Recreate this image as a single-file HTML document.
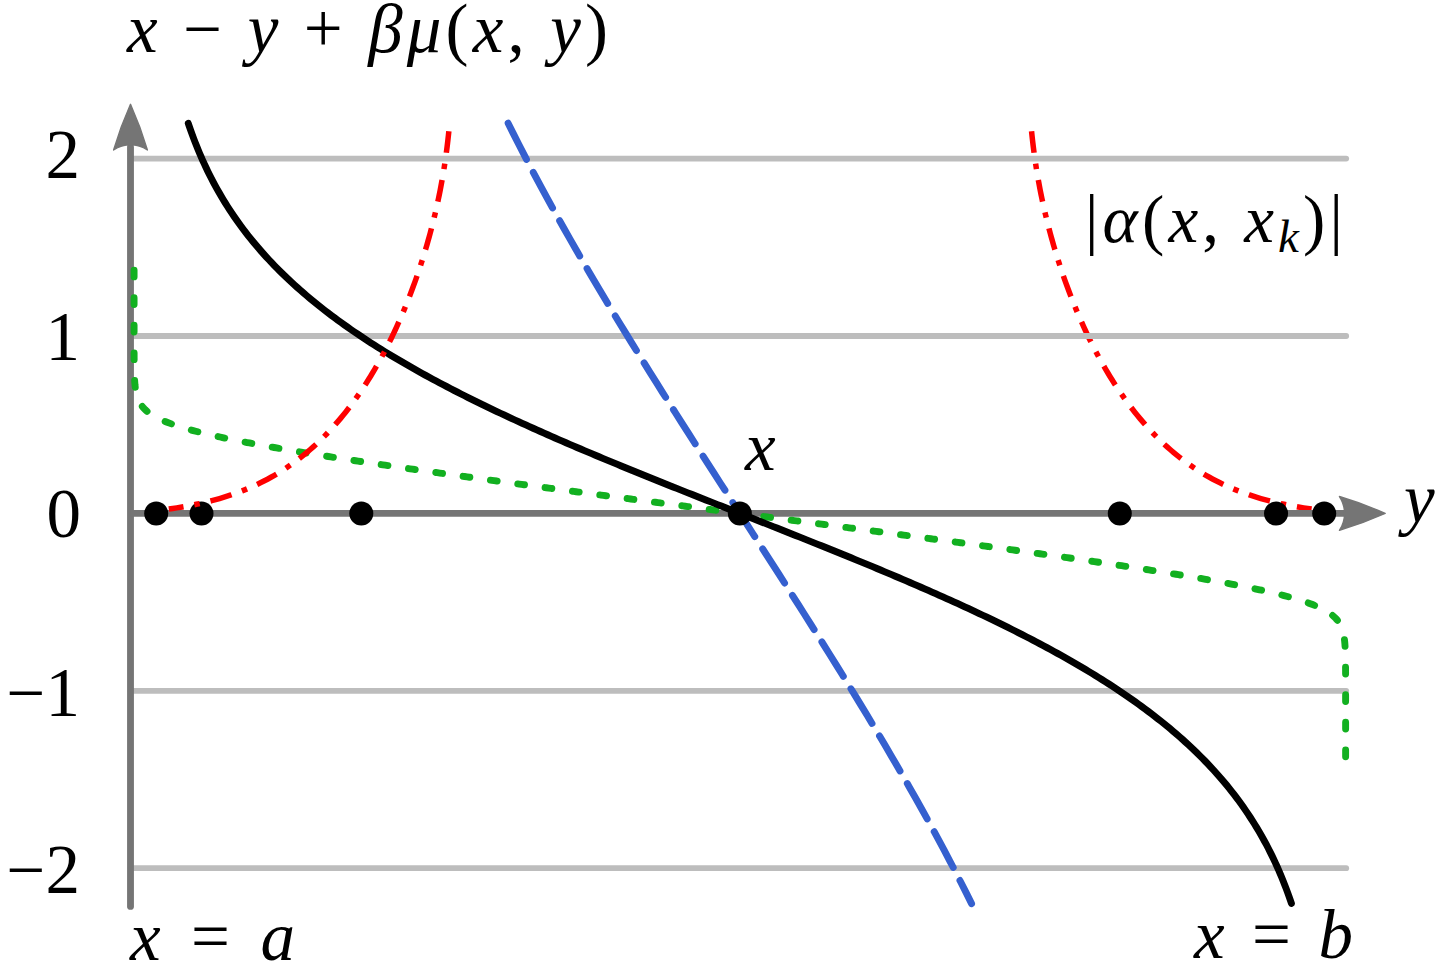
<!DOCTYPE html>
<html><head><meta charset="utf-8"><title>chart</title><style>html,body{margin:0;padding:0;background:#fff;font-family:"Liberation Sans",sans-serif}svg{display:block}</style></head><body>
<svg width="1436" height="961" viewBox="0 0 1436 961">
<rect width="1436" height="961" fill="#fff"/>
<path d="M1311.6 509.02 L1307.65 508.45 L1303.71 507.85 L1299.78 507.22 L1295.85 506.55 L1291.92 505.84 L1288.01 505.09 L1284.1 504.3 L1280.2 503.47 L1276.31 502.58 L1272.44 501.65 L1268.57 500.68 L1264.72 499.65 L1260.89 498.56 L1257.07 497.42 L1253.26 496.23 L1249.48 494.98 L1245.71 493.68 L1241.96 492.31 L1238.24 490.88 L1234.54 489.4 L1230.87 487.85 L1227.22 486.24 L1223.6 484.57 L1220.01 482.84 L1216.45 481.04 L1212.92 479.19 L1209.43 477.27 L1205.97 475.29 L1202.54 473.25 L1199.15 471.16 L1195.8 469 L1192.49 466.78 L1189.21 464.51 L1185.97 462.18 L1182.78 459.8 L1179.62 457.36 L1176.51 454.87 L1173.44 452.33 L1170.41 449.74 L1167.42 447.1 L1164.47 444.42 L1161.57 441.69 L1158.7 438.91 L1155.88 436.1 L1153.1 433.24 L1150.37 430.34 L1147.67 427.4 L1145.02 424.43 L1142.4 421.42 L1139.83 418.38 L1137.29 415.3 L1134.8 412.19 L1132.34 409.05 L1129.92 405.88 L1127.54 402.68 L1125.2 399.46 L1122.9 396.21 L1120.63 392.93 L1118.39 389.63 L1116.2 386.3 L1114.03 382.95 L1111.9 379.58 L1109.81 376.19 L1107.75 372.78 L1105.72 369.35 L1103.72 365.9 L1101.76 362.43 L1099.82 358.94 L1097.92 355.44 L1096.05 351.92 L1094.2 348.38 L1092.39 344.83 L1090.6 341.27 L1088.85 337.69 L1087.12 334.1 L1085.42 330.49 L1083.75 326.87 L1082.11 323.24 L1080.49 319.6 L1078.9 315.94 L1077.33 312.28 L1075.79 308.6 L1074.28 304.91 L1072.79 301.21 L1071.33 297.5 L1069.89 293.79 L1068.48 290.06 L1067.09 286.32 L1065.73 282.57 L1064.39 278.82 L1063.07 275.06 L1061.78 271.28 L1060.52 267.5 L1059.28 263.71 L1058.06 259.92 L1056.87 256.12 L1055.7 252.3 L1054.55 248.49 L1053.43 244.66 L1052.33 240.83 L1051.25 236.99 L1050.2 233.14 L1049.18 229.29 L1048.18 225.43 L1047.2 221.57 L1046.25 217.7 L1045.32 213.82 L1044.41 209.94 L1043.53 206.05 L1042.68 202.16 L1041.85 198.26 L1041.04 194.35 L1040.26 190.44 L1039.51 186.53 L1038.78 182.61 L1038.07 178.69 L1037.4 174.76 L1036.74 170.82 L1036.11 166.89 L1035.51 162.95 L1034.93 159 L1034.38 155.06 L1033.85 151.1 L1033.34 147.15 L1032.86 143.19 L1032.41 139.23 L1031.97 135.27 L1031.56 131.3" stroke="#ff0000" stroke-width="5.5" stroke-dasharray="22 11.04 5.5 11.04" stroke-dashoffset="7.12" fill="none"/>
<g stroke="#bdbdbd" stroke-width="5.8" stroke-linecap="round" fill="none">
<path d="M130.6 158.6 H1346.2"/>
<path d="M130.6 336 H1346.2"/>
<path d="M130.6 690.8 H1346.2"/>
<path d="M130.6 868.2 H1346.2"/>
</g>
<g stroke="#757575" stroke-width="6.85" fill="none">
<path d="M130.5 147 V906.4" stroke-linecap="round"/>
<path d="M130.6 513.4 H1345"/>
</g>
<g fill="#757575" stroke="#757575" stroke-width="1.4" stroke-linejoin="round">
<path d="M1385.15 513.4 Q1362.85 523.35 1339.45 530.3 A30.55 30.55 0 0 0 1339.45 496.5 Q1362.85 503.45 1385.15 513.4Z"/>
<path d="M130.5 104.3 Q140.45 126.6 147.4 150 A30.55 30.55 0 0 0 113.6 150 Q120.55 126.6 130.5 104.3Z"/>
</g>
<g stroke="#12b020" stroke-width="6.89" stroke-linecap="round" stroke-dasharray="6.8 20.785" fill="none">
<path d="M134.08 270.1 L134.08 272.6 L134.08 275.1 L134.08 277.61 L134.08 280.11 L134.08 282.61 L134.08 285.11 L134.08 287.62 L134.08 290.12 L134.08 292.62 L134.08 295.12 L134.08 297.62 L134.08 300.13 L134.08 302.63 L134.08 305.13 L134.08 307.63 L134.08 310.14 L134.08 312.64 L134.08 315.14 L134.08 317.64 L134.08 320.14 L134.09 322.65 L134.09 325.15 L134.09 327.65 L134.09 330.15 L134.09 332.66 L134.09 335.16 L134.09 337.66 L134.09 340.16 L134.09 342.66 L134.1 345.17 L134.1 347.67 L134.11 350.17 L134.11 352.67 L134.12 355.18 L134.13 357.68 L134.15 360.18 L134.17 362.68 L134.2 365.18 L134.23 367.69 L134.27 370.19 L134.33 372.69 L134.41 375.19 L134.51 377.69 L134.63 380.19 L134.8 382.69 L135.01 385.18 L135.29 387.67 L135.65 390.14 L136.1 392.6 L136.68 395.04 L137.41 397.43 L138.3 399.77 L139.38 402.03 L140.65 404.18 L142.1 406.22 L143.72 408.13 L145.48 409.9 L147.37 411.54 L149.35 413.07 L151.41 414.49 L153.54 415.8 L155.72 417.04 L157.93 418.2 L160.19 419.29 L162.46 420.32 L164.76 421.31 L167.08 422.24 L169.42 423.14 L171.77 424 L174.13 424.83 L176.5 425.63 L178.88 426.4 L181.27 427.15 L183.67 427.87 L186.07 428.58 L188.47 429.27 L190.88 429.94 L193.3 430.59 L195.72 431.23 L198.14 431.86 L200.57 432.47 L202.99 433.07 L205.43 433.66 L207.86 434.24 L210.3 434.81 L212.74 435.37 L215.18 435.93 L217.62 436.47 L220.06 437.01 L222.51 437.54 L224.95 438.06 L227.4 438.58 L229.85 439.09 L232.3 439.59 L234.75 440.09 L237.21 440.59 L239.66 441.07 L242.12 441.56 L244.57 442.04 L247.03 442.51 L249.49 442.98 L251.95 443.45 L254.4 443.91 L256.86 444.37 L259.33 444.82 L261.79 445.28 L264.25 445.72 L266.71 446.17 L269.17 446.61 L271.64 447.05 L274.1 447.49 L276.57 447.92 L279.03 448.35 L281.5 448.78 L283.96 449.2 L286.43 449.63 L288.89 450.05 L291.36 450.47 L293.83 450.88 L296.3 451.3 L298.76 451.71 L301.23 452.12 L303.7 452.53 L306.17 452.93 L308.64 453.34 L311.11 453.74 L313.58 454.14 L316.05 454.54 L318.52 454.94 L320.99 455.33 L323.46 455.73 L325.93 456.12 L328.4 456.51 L330.88 456.9 L333.35 457.29 L335.82 457.68 L338.29 458.06 L340.76 458.45 L343.24 458.83 L345.71 459.21 L348.18 459.6 L350.66 459.98 L353.13 460.35 L355.6 460.73 L358.08 461.11 L360.55 461.48 L363.02 461.86 L365.5 462.23 L367.97 462.6 L370.45 462.97 L372.92 463.35 L375.4 463.71 L377.87 464.08 L380.35 464.45 L382.82 464.82 L385.3 465.18 L387.77 465.55 L390.25 465.91 L392.72 466.28 L395.2 466.64 L397.68 467 L400.15 467.36 L402.63 467.72 L405.1 468.08 L407.58 468.44 L410.06 468.8 L412.53 469.16 L415.01 469.51 L417.49 469.87 L419.96 470.23 L422.44 470.58 L424.92 470.94 L427.4 471.29 L429.87 471.64 L432.35 472 L434.83 472.35 L437.3 472.7 L439.78 473.05 L442.26 473.4 L444.74 473.75 L447.21 474.1 L449.69 474.45 L452.17 474.8 L454.65 475.15 L457.13 475.49 L459.6 475.84 L462.08 476.19 L464.56 476.53 L467.04 476.88 L469.52 477.22 L472 477.57 L474.47 477.91 L476.95 478.26 L479.43 478.6 L481.91 478.94 L484.39 479.29 L486.87 479.63 L489.35 479.97 L491.82 480.31 L494.3 480.65 L496.78 480.99 L499.26 481.33 L501.74 481.67 L504.22 482.01 L506.7 482.35 L509.18 482.69 L511.66 483.03 L514.14 483.37 L516.62 483.71 L519.09 484.05 L521.57 484.38 L524.05 484.72 L526.53 485.06 L529.01 485.4 L531.49 485.73 L533.97 486.07 L536.45 486.4 L538.93 486.74 L541.41 487.08 L543.89 487.41 L546.37 487.75 L548.85 488.08 L551.33 488.41 L553.81 488.75 L556.29 489.08 L558.77 489.42 L561.25 489.75 L563.73 490.08 L566.21 490.42 L568.69 490.75 L571.17 491.08 L573.65 491.41 L576.13 491.75 L578.61 492.08 L581.09 492.41 L583.57 492.74 L586.05 493.07 L588.53 493.4 L591.01 493.74 L593.49 494.07 L595.97 494.4 L598.45 494.73 L600.93 495.06 L603.41 495.39 L605.89 495.72 L608.37 496.05 L610.85 496.38 L613.33 496.71 L615.81 497.04 L618.29 497.37 L620.77 497.7 L623.25 498.03 L625.73 498.35 L628.22 498.68 L630.7 499.01 L633.18 499.34 L635.66 499.67 L638.14 500 L640.62 500.33 L643.1 500.65 L645.58 500.98 L648.06 501.31 L650.54 501.64 L653.02 501.97 L655.5 502.29 L657.98 502.62 L660.46 502.95 L662.94 503.28 L665.43 503.6 L667.91 503.93 L670.39 504.26 L672.87 504.59 L675.35 504.91 L677.83 505.24 L680.31 505.57 L682.79 505.89 L685.27 506.22 L687.75 506.55 L690.23 506.87 L692.71 507.2 L695.19 507.53 L697.68 507.85 L700.16 508.18 L702.64 508.51 L705.12 508.83 L707.6 509.16 L710.08 509.49 L712.56 509.81 L715.04 510.14 L717.52 510.46 L720 510.79 L722.48 511.12 L724.96 511.44 L727.45 511.77 L729.93 512.1 L732.41 512.42 L734.89 512.75 L737.37 513.07 L739.85 513.4"/>
<path d="M1345.62 756.7 L1345.62 754.2 L1345.62 751.7 L1345.62 749.19 L1345.62 746.69 L1345.62 744.19 L1345.62 741.69 L1345.62 739.18 L1345.62 736.68 L1345.62 734.18 L1345.62 731.68 L1345.62 729.18 L1345.62 726.67 L1345.62 724.17 L1345.62 721.67 L1345.62 719.17 L1345.62 716.66 L1345.62 714.16 L1345.62 711.66 L1345.62 709.16 L1345.62 706.66 L1345.61 704.15 L1345.61 701.65 L1345.61 699.15 L1345.61 696.65 L1345.61 694.14 L1345.61 691.64 L1345.61 689.14 L1345.61 686.64 L1345.61 684.14 L1345.6 681.63 L1345.6 679.13 L1345.59 676.63 L1345.59 674.13 L1345.58 671.62 L1345.57 669.12 L1345.55 666.62 L1345.53 664.12 L1345.5 661.62 L1345.47 659.11 L1345.43 656.61 L1345.37 654.11 L1345.29 651.61 L1345.19 649.11 L1345.07 646.61 L1344.9 644.11 L1344.69 641.62 L1344.41 639.13 L1344.05 636.66 L1343.6 634.2 L1343.02 631.76 L1342.29 629.37 L1341.4 627.03 L1340.32 624.77 L1339.05 622.62 L1337.6 620.58 L1335.98 618.67 L1334.22 616.9 L1332.33 615.26 L1330.35 613.73 L1328.29 612.31 L1326.16 611 L1323.98 609.76 L1321.77 608.6 L1319.51 607.51 L1317.24 606.48 L1314.94 605.49 L1312.62 604.56 L1310.28 603.66 L1307.93 602.8 L1305.57 601.97 L1303.2 601.17 L1300.82 600.4 L1298.43 599.65 L1296.03 598.93 L1293.63 598.22 L1291.23 597.53 L1288.82 596.86 L1286.4 596.21 L1283.98 595.57 L1281.56 594.94 L1279.13 594.33 L1276.71 593.73 L1274.27 593.14 L1271.84 592.56 L1269.4 591.99 L1266.96 591.43 L1264.52 590.87 L1262.08 590.33 L1259.64 589.79 L1257.19 589.26 L1254.75 588.74 L1252.3 588.22 L1249.85 587.71 L1247.4 587.21 L1244.95 586.71 L1242.49 586.21 L1240.04 585.73 L1237.58 585.24 L1235.13 584.76 L1232.67 584.29 L1230.21 583.82 L1227.75 583.35 L1225.3 582.89 L1222.84 582.43 L1220.37 581.98 L1217.91 581.52 L1215.45 581.08 L1212.99 580.63 L1210.53 580.19 L1208.06 579.75 L1205.6 579.31 L1203.13 578.88 L1200.67 578.45 L1198.2 578.02 L1195.74 577.6 L1193.27 577.17 L1190.81 576.75 L1188.34 576.33 L1185.87 575.92 L1183.4 575.5 L1180.94 575.09 L1178.47 574.68 L1176 574.27 L1173.53 573.87 L1171.06 573.46 L1168.59 573.06 L1166.12 572.66 L1163.65 572.26 L1161.18 571.86 L1158.71 571.47 L1156.24 571.07 L1153.77 570.68 L1151.3 570.29 L1148.82 569.9 L1146.35 569.51 L1143.88 569.12 L1141.41 568.74 L1138.94 568.35 L1136.46 567.97 L1133.99 567.59 L1131.52 567.2 L1129.04 566.82 L1126.57 566.45 L1124.1 566.07 L1121.62 565.69 L1119.15 565.32 L1116.68 564.94 L1114.2 564.57 L1111.73 564.2 L1109.25 563.83 L1106.78 563.45 L1104.3 563.09 L1101.83 562.72 L1099.35 562.35 L1096.88 561.98 L1094.4 561.62 L1091.93 561.25 L1089.45 560.89 L1086.98 560.52 L1084.5 560.16 L1082.02 559.8 L1079.55 559.44 L1077.07 559.08 L1074.6 558.72 L1072.12 558.36 L1069.64 558 L1067.17 557.64 L1064.69 557.29 L1062.21 556.93 L1059.74 556.57 L1057.26 556.22 L1054.78 555.86 L1052.3 555.51 L1049.83 555.16 L1047.35 554.8 L1044.87 554.45 L1042.4 554.1 L1039.92 553.75 L1037.44 553.4 L1034.96 553.05 L1032.49 552.7 L1030.01 552.35 L1027.53 552 L1025.05 551.65 L1022.57 551.31 L1020.1 550.96 L1017.62 550.61 L1015.14 550.27 L1012.66 549.92 L1010.18 549.58 L1007.7 549.23 L1005.23 548.89 L1002.75 548.54 L1000.27 548.2 L997.79 547.86 L995.31 547.51 L992.83 547.17 L990.35 546.83 L987.88 546.49 L985.4 546.15 L982.92 545.81 L980.44 545.47 L977.96 545.13 L975.48 544.79 L973 544.45 L970.52 544.11 L968.04 543.77 L965.56 543.43 L963.08 543.09 L960.61 542.75 L958.13 542.42 L955.65 542.08 L953.17 541.74 L950.69 541.4 L948.21 541.07 L945.73 540.73 L943.25 540.4 L940.77 540.06 L938.29 539.72 L935.81 539.39 L933.33 539.05 L930.85 538.72 L928.37 538.39 L925.89 538.05 L923.41 537.72 L920.93 537.38 L918.45 537.05 L915.97 536.72 L913.49 536.38 L911.01 536.05 L908.53 535.72 L906.05 535.39 L903.57 535.05 L901.09 534.72 L898.61 534.39 L896.13 534.06 L893.65 533.73 L891.17 533.4 L888.69 533.06 L886.21 532.73 L883.73 532.4 L881.25 532.07 L878.77 531.74 L876.29 531.41 L873.81 531.08 L871.33 530.75 L868.85 530.42 L866.37 530.09 L863.89 529.76 L861.41 529.43 L858.93 529.1 L856.45 528.77 L853.97 528.45 L851.48 528.12 L849 527.79 L846.52 527.46 L844.04 527.13 L841.56 526.8 L839.08 526.47 L836.6 526.15 L834.12 525.82 L831.64 525.49 L829.16 525.16 L826.68 524.83 L824.2 524.51 L821.72 524.18 L819.24 523.85 L816.76 523.52 L814.27 523.2 L811.79 522.87 L809.31 522.54 L806.83 522.21 L804.35 521.89 L801.87 521.56 L799.39 521.23 L796.91 520.91 L794.43 520.58 L791.95 520.25 L789.47 519.93 L786.99 519.6 L784.51 519.27 L782.02 518.95 L779.54 518.62 L777.06 518.29 L774.58 517.97 L772.1 517.64 L769.62 517.31 L767.14 516.99 L764.66 516.66 L762.18 516.34 L759.7 516.01 L757.22 515.68 L754.74 515.36 L752.25 515.03 L749.77 514.7 L747.29 514.38 L744.81 514.05 L742.33 513.73 L739.85 513.4"/>
</g>
<path d="M508.13 123.2 L513.46 133.9 L518.85 144.56 L524.31 155.19 L529.84 165.78 L535.42 176.35 L541.06 186.88 L546.76 197.39 L552.5 207.86 L558.3 218.31 L564.15 228.73 L570.04 239.12 L575.98 249.49 L581.96 259.84 L587.98 270.16 L594.04 280.46 L600.13 290.74 L606.25 301 L612.41 311.24 L618.6 321.46 L624.82 331.66 L631.07 341.85 L637.34 352.02 L643.63 362.18 L649.95 372.32 L656.29 382.45 L662.64 392.57 L669.02 402.68 L675.41 412.78 L681.81 422.87 L688.23 432.95 L694.65 443.02 L701.09 453.08 L707.54 463.15 L713.99 473.2 L720.45 483.25 L726.92 493.3 L733.38 503.35 L739.85 513.4 L746.32 523.45 L752.78 533.5 L759.25 543.55 L765.71 553.6 L772.16 563.65 L778.61 573.72 L785.05 583.78 L791.47 593.85 L797.89 603.93 L804.29 614.02 L810.68 624.12 L817.06 634.23 L823.41 644.35 L829.75 654.48 L836.07 664.62 L842.36 674.78 L848.63 684.95 L854.88 695.14 L861.1 705.34 L867.29 715.56 L873.45 725.8 L879.57 736.06 L885.66 746.34 L891.72 756.64 L897.74 766.96 L903.72 777.31 L909.66 787.68 L915.55 798.07 L921.4 808.49 L927.2 818.94 L932.94 829.41 L938.64 839.92 L944.28 850.45 L949.86 861.02 L955.39 871.61 L960.85 882.24 L966.24 892.9 L971.57 903.6" stroke="#3560cf" stroke-width="6.89" stroke-linecap="round" stroke-dasharray="40.54 14.6" fill="none"/>
<path d="M188.27 123.37 L189.56 127.15 L190.88 130.92 L192.24 134.67 L193.63 138.41 L195.06 142.14 L196.53 145.85 L198.03 149.55 L199.57 153.24 L201.15 156.9 L202.77 160.55 L204.43 164.18 L206.12 167.8 L207.86 171.4 L209.63 174.97 L211.44 178.53 L213.29 182.07 L215.18 185.58 L217.11 189.08 L219.08 192.55 L221.09 196 L223.14 199.43 L225.22 202.84 L227.34 206.22 L229.51 209.57 L231.71 212.91 L233.94 216.21 L236.22 219.5 L238.53 222.75 L240.87 225.98 L243.25 229.19 L245.67 232.36 L248.12 235.52 L250.61 238.64 L253.13 241.74 L255.68 244.81 L258.26 247.85 L260.88 250.87 L263.53 253.86 L266.2 256.82 L268.91 259.75 L271.65 262.66 L274.41 265.54 L277.2 268.4 L280.02 271.22 L282.87 274.03 L285.74 276.8 L288.63 279.55 L291.55 282.27 L294.5 284.97 L297.46 287.64 L300.45 290.29 L303.46 292.91 L306.49 295.51 L309.55 298.08 L312.62 300.63 L315.71 303.15 L318.83 305.66 L321.96 308.13 L325.1 310.59 L328.27 313.02 L331.45 315.43 L334.65 317.82 L337.86 320.19 L341.09 322.54 L344.34 324.87 L347.6 327.17 L350.87 329.46 L354.16 331.73 L357.46 333.97 L360.77 336.2 L364.09 338.41 L367.43 340.6 L370.78 342.78 L374.14 344.93 L377.51 347.07 L380.9 349.19 L384.29 351.3 L387.69 353.38 L391.1 355.46 L394.53 357.51 L397.96 359.55 L401.4 361.58 L404.85 363.59 L408.3 365.59 L411.77 367.57 L415.24 369.54 L418.72 371.49 L422.21 373.43 L425.71 375.36 L429.21 377.28 L432.72 379.18 L436.24 381.07 L439.76 382.95 L443.29 384.81 L446.83 386.67 L450.37 388.51 L453.92 390.34 L457.47 392.17 L461.03 393.98 L464.59 395.78 L468.16 397.57 L471.73 399.35 L475.31 401.12 L478.9 402.88 L482.48 404.63 L486.08 406.37 L489.67 408.1 L493.28 409.83 L496.88 411.54 L500.49 413.25 L504.1 414.95 L507.72 416.64 L511.34 418.32 L514.96 420 L518.59 421.66 L522.22 423.32 L525.86 424.98 L529.49 426.62 L533.13 428.26 L536.78 429.9 L540.42 431.52 L544.07 433.14 L547.72 434.76 L551.38 436.37 L555.04 437.97 L558.7 439.56 L562.36 441.15 L566.02 442.74 L569.69 444.32 L573.36 445.89 L577.03 447.46 L580.7 449.03 L584.38 450.59 L588.05 452.14 L591.73 453.7 L595.41 455.24 L599.1 456.78 L602.78 458.32 L606.47 459.86 L610.15 461.39 L613.84 462.91 L617.53 464.44 L621.23 465.96 L624.92 467.47 L628.61 468.99 L632.31 470.5 L636.01 472 L639.71 473.51 L643.41 475.01 L647.11 476.51 L650.81 478 L654.51 479.49 L658.21 480.99 L661.92 482.47 L665.62 483.96 L669.33 485.44 L673.04 486.93 L676.75 488.41 L680.45 489.89 L684.16 491.36 L687.87 492.84 L691.58 494.31 L695.29 495.79 L699.01 497.26 L702.72 498.73 L706.43 500.2 L710.14 501.67 L713.85 503.14 L717.57 504.6 L721.28 506.07 L724.99 507.54 L728.71 509 L732.42 510.47 L736.14 511.93 L739.85 513.4 L743.56 514.87 L747.28 516.33 L750.99 517.8 L754.71 519.26 L758.42 520.73 L762.13 522.2 L765.85 523.66 L769.56 525.13 L773.27 526.6 L776.98 528.07 L780.69 529.54 L784.41 531.01 L788.12 532.49 L791.83 533.96 L795.54 535.44 L799.25 536.91 L802.95 538.39 L806.66 539.87 L810.37 541.36 L814.08 542.84 L817.78 544.33 L821.49 545.81 L825.19 547.31 L828.89 548.8 L832.59 550.29 L836.29 551.79 L839.99 553.29 L843.69 554.8 L847.39 556.3 L851.09 557.81 L854.78 559.33 L858.47 560.84 L862.17 562.36 L865.86 563.89 L869.55 565.41 L873.23 566.94 L876.92 568.48 L880.6 570.02 L884.29 571.56 L887.97 573.1 L891.65 574.66 L895.32 576.21 L899 577.77 L902.67 579.34 L906.34 580.91 L910.01 582.48 L913.68 584.06 L917.34 585.65 L921 587.24 L924.66 588.83 L928.32 590.43 L931.98 592.04 L935.63 593.66 L939.28 595.28 L942.92 596.9 L946.57 598.54 L950.21 600.18 L953.84 601.82 L957.48 603.48 L961.11 605.14 L964.74 606.8 L968.36 608.48 L971.98 610.16 L975.6 611.85 L979.21 613.55 L982.82 615.26 L986.42 616.97 L990.03 618.7 L993.62 620.43 L997.22 622.17 L1000.8 623.92 L1004.39 625.68 L1007.97 627.45 L1011.54 629.23 L1015.11 631.02 L1018.67 632.82 L1022.23 634.63 L1025.78 636.46 L1029.33 638.29 L1032.87 640.13 L1036.41 641.99 L1039.94 643.85 L1043.46 645.73 L1046.98 647.62 L1050.49 649.52 L1053.99 651.44 L1057.49 653.37 L1060.98 655.31 L1064.46 657.26 L1067.93 659.23 L1071.4 661.21 L1074.85 663.21 L1078.3 665.22 L1081.74 667.25 L1085.17 669.29 L1088.6 671.34 L1092.01 673.42 L1095.41 675.5 L1098.8 677.61 L1102.19 679.73 L1105.56 681.87 L1108.92 684.02 L1112.27 686.2 L1115.61 688.39 L1118.93 690.6 L1122.24 692.83 L1125.54 695.07 L1128.83 697.34 L1132.1 699.63 L1135.36 701.93 L1138.61 704.26 L1141.84 706.61 L1145.05 708.98 L1148.25 711.37 L1151.43 713.78 L1154.6 716.21 L1157.74 718.67 L1160.87 721.14 L1163.99 723.65 L1167.08 726.17 L1170.15 728.72 L1173.21 731.29 L1176.24 733.89 L1179.25 736.51 L1182.24 739.16 L1185.2 741.83 L1188.15 744.53 L1191.07 747.25 L1193.96 750 L1196.83 752.77 L1199.68 755.58 L1202.5 758.4 L1205.29 761.26 L1208.05 764.14 L1210.79 767.05 L1213.5 769.98 L1216.17 772.94 L1218.82 775.93 L1221.44 778.95 L1224.02 781.99 L1226.57 785.06 L1229.09 788.16 L1231.58 791.28 L1234.03 794.44 L1236.45 797.61 L1238.83 800.82 L1241.17 804.05 L1243.48 807.3 L1245.76 810.59 L1247.99 813.89 L1250.19 817.23 L1252.36 820.58 L1254.48 823.96 L1256.56 827.37 L1258.61 830.8 L1260.62 834.25 L1262.59 837.72 L1264.52 841.22 L1266.41 844.73 L1268.26 848.27 L1270.07 851.83 L1271.84 855.4 L1273.58 859 L1275.27 862.62 L1276.93 866.25 L1278.55 869.9 L1280.13 873.56 L1281.67 877.25 L1283.17 880.95 L1284.64 884.66 L1286.07 888.39 L1287.46 892.13 L1288.82 895.88 L1290.14 899.65 L1291.43 903.43" stroke="#000" stroke-width="6.89" stroke-linecap="round" stroke-linejoin="round" fill="none"/>
<g fill="#000">
<circle cx="156.2" cy="513.5" r="12"/>
<circle cx="201.5" cy="513.5" r="12"/>
<circle cx="361.3" cy="513.5" r="12"/>
<circle cx="739.85" cy="513.5" r="12"/>
</g>
<path d="M168.8 509.02 L172.75 508.45 L176.69 507.85 L180.62 507.22 L184.55 506.55 L188.48 505.84 L192.39 505.09 L196.3 504.3 L200.2 503.47 L204.09 502.58 L207.96 501.65 L211.83 500.68 L215.68 499.65 L219.51 498.56 L223.33 497.42 L227.14 496.23 L230.92 494.98 L234.69 493.68 L238.44 492.31 L242.16 490.88 L245.86 489.4 L249.53 487.85 L253.18 486.24 L256.8 484.57 L260.39 482.84 L263.95 481.04 L267.48 479.19 L270.97 477.27 L274.43 475.29 L277.86 473.25 L281.25 471.16 L284.6 469 L287.91 466.78 L291.19 464.51 L294.43 462.18 L297.62 459.8 L300.78 457.36 L303.89 454.87 L306.96 452.33 L309.99 449.74 L312.98 447.1 L315.93 444.42 L318.83 441.69 L321.7 438.91 L324.52 436.1 L327.3 433.24 L330.03 430.34 L332.73 427.4 L335.38 424.43 L338 421.42 L340.57 418.38 L343.11 415.3 L345.6 412.19 L348.06 409.05 L350.48 405.88 L352.86 402.68 L355.2 399.46 L357.5 396.21 L359.77 392.93 L362.01 389.63 L364.2 386.3 L366.37 382.95 L368.5 379.58 L370.59 376.19 L372.65 372.78 L374.68 369.35 L376.68 365.9 L378.64 362.43 L380.58 358.94 L382.48 355.44 L384.35 351.92 L386.2 348.38 L388.01 344.83 L389.8 341.27 L391.55 337.69 L393.28 334.1 L394.98 330.49 L396.65 326.87 L398.29 323.24 L399.91 319.6 L401.5 315.94 L403.07 312.28 L404.61 308.6 L406.12 304.91 L407.61 301.21 L409.07 297.5 L410.51 293.79 L411.92 290.06 L413.31 286.32 L414.67 282.57 L416.01 278.82 L417.33 275.06 L418.62 271.28 L419.88 267.5 L421.12 263.71 L422.34 259.92 L423.53 256.12 L424.7 252.3 L425.85 248.49 L426.97 244.66 L428.07 240.83 L429.15 236.99 L430.2 233.14 L431.22 229.29 L432.22 225.43 L433.2 221.57 L434.15 217.7 L435.08 213.82 L435.99 209.94 L436.87 206.05 L437.72 202.16 L438.55 198.26 L439.36 194.35 L440.14 190.44 L440.89 186.53 L441.62 182.61 L442.33 178.69 L443 174.76 L443.66 170.82 L444.29 166.89 L444.89 162.95 L445.47 159 L446.02 155.06 L446.55 151.1 L447.06 147.15 L447.54 143.19 L447.99 139.23 L448.43 135.27 L448.84 131.3" stroke="#ff0000" stroke-width="5.5" stroke-dasharray="22 11.04 5.5 11.04" stroke-dashoffset="7.12" fill="none"/>
<g fill="#000">
<circle cx="1119.8" cy="513.5" r="12"/>
<circle cx="1276.05" cy="513.5" r="12"/>
<circle cx="1324.2" cy="513.5" r="12"/>
</g>
<g fill="#000" font-family="'Liberation Serif','DejaVu Serif',serif">
<text x="127" y="52" font-size="69" textLength="481" lengthAdjust="spacing"><tspan font-style="italic">x</tspan> − <tspan font-style="italic">y</tspan> + <tspan font-style="italic">βμ</tspan>(<tspan font-style="italic">x</tspan>, <tspan font-style="italic">y</tspan>)</text>
<text x="80" y="178.2" font-size="69" text-anchor="end">2</text>
<text x="80" y="360.3" font-size="69" text-anchor="end">1</text>
<text x="81" y="537" font-size="69" text-anchor="end">0</text>
<text x="80" y="716.3" font-size="69" text-anchor="end">−1</text>
<text x="80" y="893.4" font-size="69" text-anchor="end">−2</text>
<text x="745" y="470" font-size="69" font-style="italic">x</text>
<text x="1404" y="522" font-size="69" font-style="italic">y</text>
<text x="1085" y="242" font-size="67" textLength="258" lengthAdjust="spacing">|<tspan font-style="italic">α</tspan>(<tspan font-style="italic">x</tspan>, <tspan font-style="italic">x</tspan><tspan font-style="italic" font-size="47" dy="10">k</tspan><tspan dy="-10">)|</tspan></text>
<text x="130" y="960" font-size="69" textLength="165" lengthAdjust="spacing"><tspan font-style="italic">x</tspan> = <tspan font-style="italic">a</tspan></text>
<text x="1194" y="958" font-size="69" textLength="159" lengthAdjust="spacing"><tspan font-style="italic">x</tspan> = <tspan font-style="italic">b</tspan></text>
</g>
</svg>
</body></html>
